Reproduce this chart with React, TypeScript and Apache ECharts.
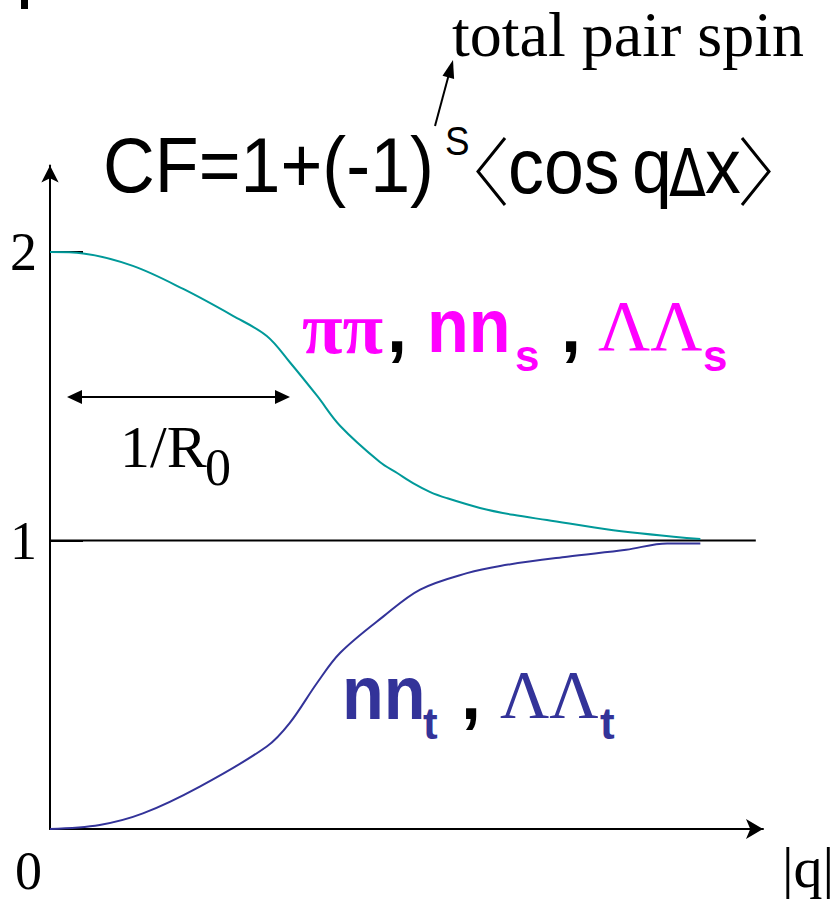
import React, { useEffect, useRef } from "react";
import * as echarts from "echarts";

// |q| positions and CF values
const qUpper = [0, 0.46, 1.15, 1.85, 2.54, 3.01, 3.33, 3.71, 4.03, 4.58, 4.82, 5.04, 5.28, 5.51, 5.97, 6.43, 6.9, 7.82, 9.03];
const cfUpper = [2.0, 1.995, 1.952, 1.872, 1.779, 1.709, 1.618, 1.501, 1.397, 1.272, 1.234, 1.199, 1.168, 1.147, 1.113, 1.089, 1.071, 1.036, 1.005];

const qLower = [0, 0.69, 1.29, 2.08, 3.01, 3.33, 3.71, 4.03, 4.63, 5.14, 5.79, 6.25, 7.18, 8.0, 8.57, 9.03];
const cfLower = [0, 0.014, 0.054, 0.147, 0.286, 0.368, 0.507, 0.611, 0.737, 0.83, 0.887, 0.912, 0.944, 0.968, 0.99, 0.99];

const qBase = [0, 9.8];
const cfBase = [1, 1];

const yTicks = [1, 2];

const SERIF = "Liberation Serif";
const SANS = "Liberation Sans";

function txt(text: string, x: number, y: number, fontSize: number, opts: any = {}) {
  return {
    type: "text",
    x,
    y,
    scaleX: opts.scaleX ?? 1,
    z: 10,
    style: {
      text,
      fontSize,
      fontFamily: opts.family ?? SANS,
      fontWeight: opts.weight ?? "normal",
      fill: opts.color ?? "#000",
      align: "left",
      textAlign: "left",
      verticalAlign: "middle",
      textVerticalAlign: "middle",
    },
  };
}

export default function App() {
  const ref = useRef<HTMLDivElement>(null);
  useEffect(() => {
    if (!ref.current) return;
    const chart = echarts.init(ref.current, null, { renderer: "svg" });
    const mag = "#ff00ff";
    const blue = "#333399";
    chart.setOption({
      animation: false,
      backgroundColor: "#fff",
      grid: { left: 50, top: 165.5, width: 713, height: 663.5, containLabel: false, outerBoundsMode: "none" },
      xAxis: {
        type: "value",
        min: 0,
        max: 9.9,
        axisLine: { show: true, symbol: ["none", "arrow"], symbolSize: [15, 17], lineStyle: { color: "#000", width: 2 } },
        axisTick: { show: false },
        axisLabel: { show: false },
        splitLine: { show: false },
      },
      yAxis: {
        type: "value",
        min: 0,
        max: 2.3,
        interval: 1,
        axisLine: { show: true, symbol: ["none", "arrow"], symbolSize: [13, 17], lineStyle: { color: "#000", width: 2 } },
        axisTick: { show: true, inside: true, length: 33, customValues: yTicks, lineStyle: { color: "#000", width: 2 } },
        axisLabel: {
          show: true,
          margin: 13,
          fontSize: 54,
          fontFamily: SERIF,
          color: "#000",
          customValues: yTicks,
          formatter: (v: number) => String(v),
        },
        splitLine: { show: false },
      },
      series: [
        {
          name: "baseline",
          type: "line",
          data: qBase.map((q, i) => [q, cfBase[i]]),
          showSymbol: false,
          lineStyle: { color: "#000", width: 2 },
          z: 1,
        },
        {
          name: "singlet",
          type: "line",
          data: qUpper.map((q, i) => [q, cfUpper[i]]),
          showSymbol: false,
          smooth: 0.35,
          lineStyle: { color: "#009999", width: 2 },
          z: 2,
        },
        {
          name: "triplet",
          type: "line",
          data: qLower.map((q, i) => [q, cfLower[i]]),
          showSymbol: false,
          smooth: 0.35,
          lineStyle: { color: blue, width: 2 },
          z: 2,
        },
      ],
      graphic: [
        { type: "rect", shape: { x: 21, y: 0, width: 7, height: 9 }, style: { fill: "#000" } },
        txt("total pair spin", 452, 34, 64, { family: SERIF }),
        { type: "line", shape: { x1: 435, y1: 126, x2: 449, y2: 74 }, style: { stroke: "#000", lineWidth: 2 } },
        { type: "polygon", shape: { points: [[453, 60], [454.1, 79], [442.5, 75.8]] }, style: { fill: "#000" } },
        txt("CF=1+(-1)", 103, 165, 78, { scaleX: 0.92 }),
        txt("S", 445, 141, 40, { scaleX: 0.92 }),
        { type: "polyline", shape: { points: [[505, 138], [478, 171.5], [505, 205]] }, style: { stroke: "#000", lineWidth: 3, fill: null } },
        txt("cos", 508, 166, 78, { scaleX: 0.92 }),
        txt("q", 632, 166, 78, { scaleX: 0.92 }),
        txt("Δ", 669, 173, 66, { family: "DejaVu Sans", scaleX: 0.82 }),
        txt("x", 705, 166, 78, { scaleX: 0.92 }),
        { type: "polyline", shape: { points: [[742, 138], [769, 171.5], [742, 205]] }, style: { stroke: "#000", lineWidth: 3, fill: null } },
        // 1/R0 double arrow
        { type: "line", shape: { x1: 78, y1: 397, x2: 279, y2: 397 }, style: { stroke: "#000", lineWidth: 2 } },
        { type: "polygon", shape: { points: [[67, 397], [82, 390], [82, 404]] }, style: { fill: "#000" } },
        { type: "polygon", shape: { points: [[290, 397], [275, 390], [275, 404]] }, style: { fill: "#000" } },
        txt("1/R", 120, 447, 60, { family: SERIF }),
        txt("0", 205, 467, 52, { family: SERIF }),
        // singlet label
        txt("ππ", 302, 328, 74, { family: SERIF, weight: "bold", color: mag }),
        txt(",", 387, 327, 72, { weight: "bold" }),
        txt("nn", 427, 326, 76, { weight: "bold", color: mag, scaleX: 0.9 }),
        txt("s", 515, 355, 44, { weight: "bold", color: mag }),
        txt(",", 561, 327, 72, { weight: "bold" }),
        txt("ΛΛ", 598, 326, 72, { family: SERIF, color: mag }),
        txt("s", 703, 355, 44, { weight: "bold", color: mag }),
        // triplet label
        txt("nn", 342, 693, 76, { weight: "bold", color: blue, scaleX: 0.9 }),
        txt("t", 423, 723, 44, { weight: "bold", color: blue }),
        txt(",", 461, 694, 72, { weight: "bold" }),
        txt("ΛΛ", 500, 694, 68, { family: SERIF, color: blue }),
        txt("t", 600, 723, 44, { weight: "bold", color: blue }),
        // axis extras
        txt("0", 15, 871, 54, { family: SERIF }),
        txt("|q|", 782, 867, 58, { family: SERIF }),
      ],
    });
    return () => chart.dispose();
  }, []);
  return <div ref={ref} style={{ position: "fixed", left: 0, top: 0, width: 840, height: 900 }} />;
}
